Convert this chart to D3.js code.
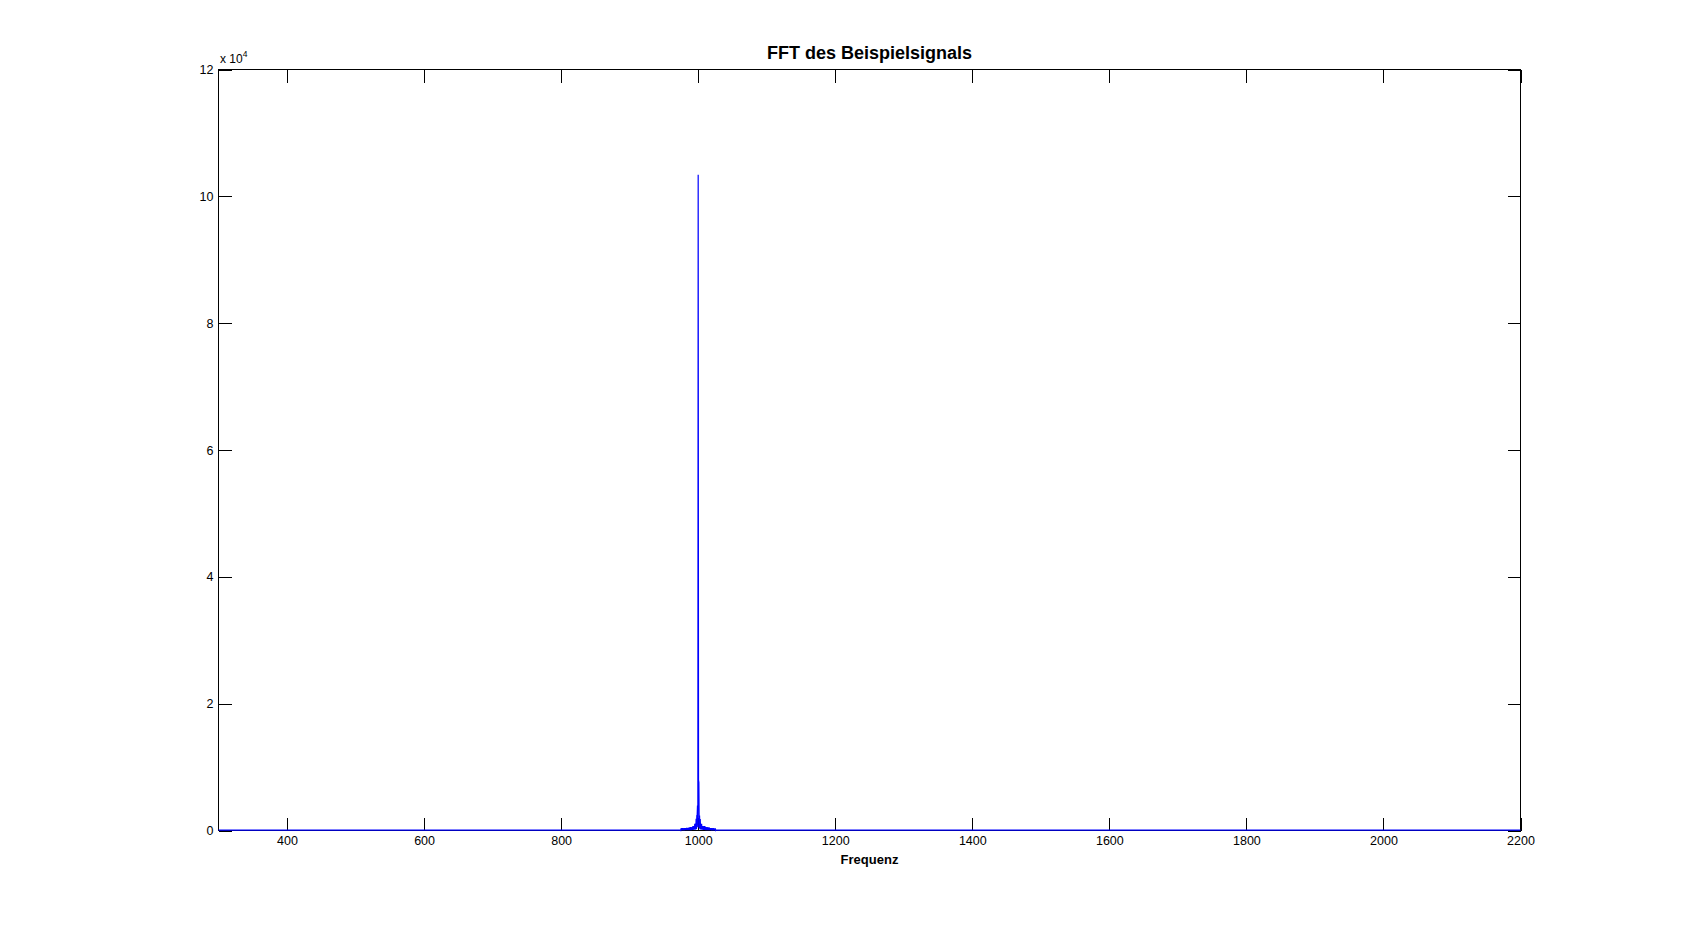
<!DOCTYPE html>
<html>
<head>
<meta charset="utf-8">
<script src="https://cdn.jsdelivr.net/npm/d3@7"></script>
<style>
  html, body { margin: 0; padding: 0; background: #fff; }
  svg { display: block; }
  text { font-family: "Liberation Sans", Arial, sans-serif; fill: #000; }
</style>
</head>
<body>
<svg id="chart" width="1681" height="934"></svg>
<script>
// ---- data ----
const titleText = "FFT des Beispielsignals";
const xLabelText = "Frequenz";
const xTicks = [400, 600, 800, 1000, 1200, 1400, 1600, 1800, 2000, 2200];
const yTicks = [0, 20000, 40000, 60000, 80000, 100000, 120000];
const xDomain = [300, 2200];
const yDomain = [0, 120000];

// spectrum samples (frequency in Hz, magnitude)
const freqs = [
  300, 600, 900, 974,
  974.5, 975, 975.5, 976, 976.5, 977, 977.5, 978, 978.5, 979, 979.5, 980,
  980.5, 981, 981.5, 982, 982.5, 983, 983.5, 984, 984.5, 985, 985.5, 986,
  986.5, 987, 987.5, 988, 988.5, 989, 989.5, 990, 990.5, 991, 991.5, 992,
  992.5, 993, 993.5, 994, 994.5, 995, 995.5, 996, 996.5, 997, 997.5, 998,
  998.5, 999, 999.5, 1000, 1000.5, 1001, 1001.5, 1002, 1002.5, 1003, 1003.5, 1004,
  1004.5, 1005, 1005.5, 1006, 1006.5, 1007, 1007.5, 1008, 1008.5, 1009, 1009.5, 1010,
  1010.5, 1011, 1011.5, 1012, 1012.5, 1013, 1013.5, 1014, 1014.5, 1015, 1015.5, 1016,
  1016.5, 1017, 1017.5, 1018, 1018.5, 1019, 1019.5, 1020, 1020.5, 1021, 1021.5, 1022,
  1022.5, 1023, 1023.5, 1024, 1024.5, 1025, 1025.5, 1026,
  1100, 1500, 1900, 2200
];
const mags = [
  60, 70, 60, 90,
  20, 340, 30, 360, 40, 370, 30, 350, 40, 380, 30, 360,
  50, 390, 40, 370, 50, 400, 40, 380, 60, 410, 50, 430,
  60, 520, 70, 510, 60, 530, 80, 520, 70, 540, 90, 680,
  100, 690, 110, 700, 120, 1050, 140, 1080, 180, 1840, 220, 2365,
  2400, 3940, 500, 103400, 7900, 7600, 400, 2380, 200, 1830, 170, 1060,
  150, 1040, 120, 690, 110, 700, 100, 680, 90, 690, 80, 670,
  70, 530, 70, 520, 60, 530, 60, 510, 50, 520, 50, 500,
  40, 380, 40, 370, 40, 360, 30, 370, 40, 350, 30, 360,
  30, 350, 30, 340, 20, 330, 20, 90,
  70, 60, 70, 60
];

// ---- layout ----
const svg = d3.select("#chart");
const plotLeft = 218.5, plotRight = 1520.5, plotTop = 69.5, plotBottom = 830.5;
const tickLen = 13;

const x = d3.scaleLinear().domain(xDomain).range([plotLeft, plotRight]);
const y = d3.scaleLinear().domain(yDomain).range([plotBottom, plotTop]);

svg.append("rect").attr("x", 0).attr("y", 0).attr("width", 1681).attr("height", 934).attr("fill", "#fff");

// axes (ticks inward, like MATLAB)
const gx = svg.append("g").attr("transform", `translate(0,${plotBottom})`)
  .call(d3.axisBottom(x).tickValues(xTicks).tickFormat(d3.format("d"))
    .tickSizeInner(-tickLen).tickSizeOuter(0).tickPadding(6));
const gxTop = svg.append("g").attr("transform", `translate(0,${plotTop})`)
  .call(d3.axisTop(x).tickValues(xTicks).tickFormat("")
    .tickSizeInner(-tickLen).tickSizeOuter(0));
const gy = svg.append("g").attr("transform", `translate(${plotLeft},0)`)
  .call(d3.axisLeft(y).tickValues(yTicks).tickFormat(d => d / 10000)
    .tickSizeInner(-tickLen).tickSizeOuter(0).tickPadding(5));
const gyRight = svg.append("g").attr("transform", `translate(${plotRight},0)`)
  .call(d3.axisRight(y).tickValues(yTicks).tickFormat("")
    .tickSizeInner(-tickLen).tickSizeOuter(0));

[gx, gxTop, gy, gyRight].forEach(g => {
  g.select(".domain").remove();
  g.selectAll(".tick line").attr("stroke", "#000").attr("stroke-width", 1).attr("shape-rendering", "crispEdges");
  g.selectAll(".tick text").style("font-size", "12.5px").style("font-family", "'Liberation Sans', Arial, sans-serif").attr("fill", "#000");
});

// box
svg.append("rect")
  .attr("x", plotLeft).attr("y", plotTop)
  .attr("width", plotRight - plotLeft).attr("height", plotBottom - plotTop)
  .attr("fill", "none").attr("stroke", "#000").attr("stroke-width", 1)
  .attr("shape-rendering", "crispEdges");

// exponent label
const expo = svg.append("text").attr("x", 220).attr("y", 62.5).style("font-size", "12px");
expo.append("tspan").text("x 10");
expo.append("tspan").attr("dy", -5.5).style("font-size", "8.5px").text("4");

// title
svg.append("text")
  .attr("x", (plotLeft + plotRight) / 2).attr("y", 59)
  .attr("text-anchor", "middle")
  .style("font-size", "18px").style("font-weight", "bold")
  .text(titleText);

// x label
svg.append("text")
  .attr("x", (plotLeft + plotRight) / 2).attr("y", 864)
  .attr("text-anchor", "middle")
  .style("font-size", "13px").style("font-weight", "bold")
  .text(xLabelText);

// spectrum line
const pts = freqs.map((f, i) => [f, mags[i]]);
const line = d3.line().x(d => x(d[0])).y(d => y(d[1]));
svg.append("path")
  .datum(pts)
  .attr("d", line)
  .attr("fill", "none")
  .attr("stroke", "#0000ff")
  .attr("stroke-width", 1.2);
</script>
</body>
</html>
